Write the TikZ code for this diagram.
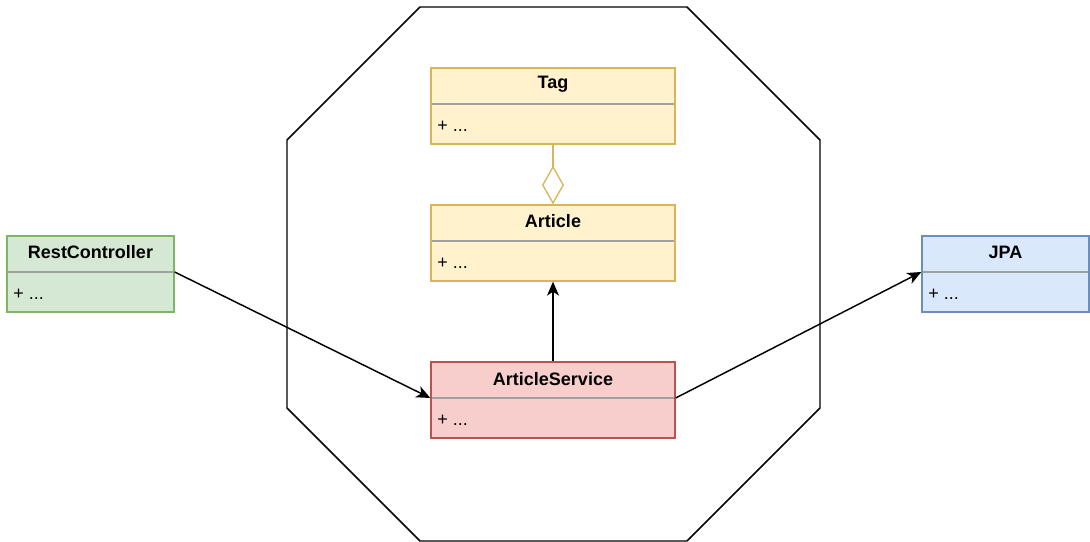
\documentclass[tikz,border=0pt]{standalone}
\usepackage{fontspec}
\setmainfont{Liberation Sans}
\usetikzlibrary{arrows.meta}
\definecolor{yfill}{HTML}{FFF2CC}\definecolor{ydraw}{HTML}{D6B656}
\definecolor{gfill}{HTML}{D5E8D4}\definecolor{gdraw}{HTML}{82B366}
\definecolor{rfill}{HTML}{F8CECC}\definecolor{rdraw}{HTML}{B85450}
\definecolor{bfill}{HTML}{DAE8FC}\definecolor{bdraw}{HTML}{6C8EBF}
\definecolor{divgray}{RGB}{160,160,160}
\begin{document}
\begin{tikzpicture}[x=0.75pt,y=-0.75pt,
  classbox/.style={draw,line width=1pt,inner sep=0pt,minimum height=76*0.75pt},
  wide/.style={minimum width=244*0.75pt},
  narrow/.style={minimum width=167*0.75pt},
  yel/.style={fill=yfill,draw=ydraw},
  grn/.style={fill=gfill,draw=gdraw},
  red/.style={fill=rfill,draw=rdraw},
  blu/.style={fill=bfill,draw=bdraw},
  titletext/.style={font=\fontsize{13.5}{16}\selectfont\bfseries,inner sep=0pt},
  attrtext/.style={font=\fontsize{13.5}{16}\selectfont,inner sep=0pt,anchor=west},
  divider/.style={draw=divgray,line width=1pt},
  conn/.style={draw=black,line width=1.1pt,-{Stealth[length=10.5pt,width=9pt,inset=3pt]}},
  agg/.style={draw=ydraw,line width=1pt,-{Diamond[open,length=29pt,width=16.5pt]}}
]
\useasboundingbox (0,0) rectangle (1090,542);
% octagon
\draw[line width=1.1pt,black] (420,7) -- (687,7) -- (820,140) -- (820,408) -- (687,541) -- (420,541) -- (287,408) -- (287,140) -- cycle;

% Tag
\node[classbox,wide,yel] (tag) at (553,106) {};
\draw[divider] (432,104) -- (674,104);
\node[titletext] (tag-t) at (553,84) {Tag};
\node[attrtext] (tag-a) at (437,126) {+ ...};

% Article
\node[classbox,wide,yel] (art) at (553,243) {};
\draw[divider] (432,241) -- (674,241);
\node[titletext] (art-t) at (553,221) {Article};
\node[attrtext] (art-a) at (437,263) {+ ...};

% ArticleService
\node[classbox,wide,red] (svc) at (553,400) {};
\draw[divider] (432,398) -- (674,398);
\node[titletext] (svc-t) at (553,379) {ArticleService};
\node[attrtext] (svc-a) at (437,420) {+ ...};

% RestController
\node[classbox,narrow,grn] (rest) at (90.5,274) {};
\draw[divider] (8,272) -- (173,272);
\node[titletext] (rest-t) at (90.5,252) {RestController};
\node[attrtext] (rest-a) at (13,294) {+ ...};

% JPA
\node[classbox,narrow,blu] (jpa) at (1005.5,274) {};
\draw[divider] (923,272) -- (1088,272);
\node[titletext] (jpa-t) at (1005.5,252) {JPA};
\node[attrtext] (jpa-a) at (928,294) {+ ...};

% connectors
\draw[agg] (tag.south) -- (art.north);
\draw[conn] (svc.north) -- (art.south);
\draw[conn] ([yshift=1.5pt]rest.east) -- ([yshift=1.5pt]svc.west);
\draw[conn] ([yshift=1.5pt]svc.east) -- ([yshift=1.5pt]jpa.west);
\end{tikzpicture}
\end{document}
